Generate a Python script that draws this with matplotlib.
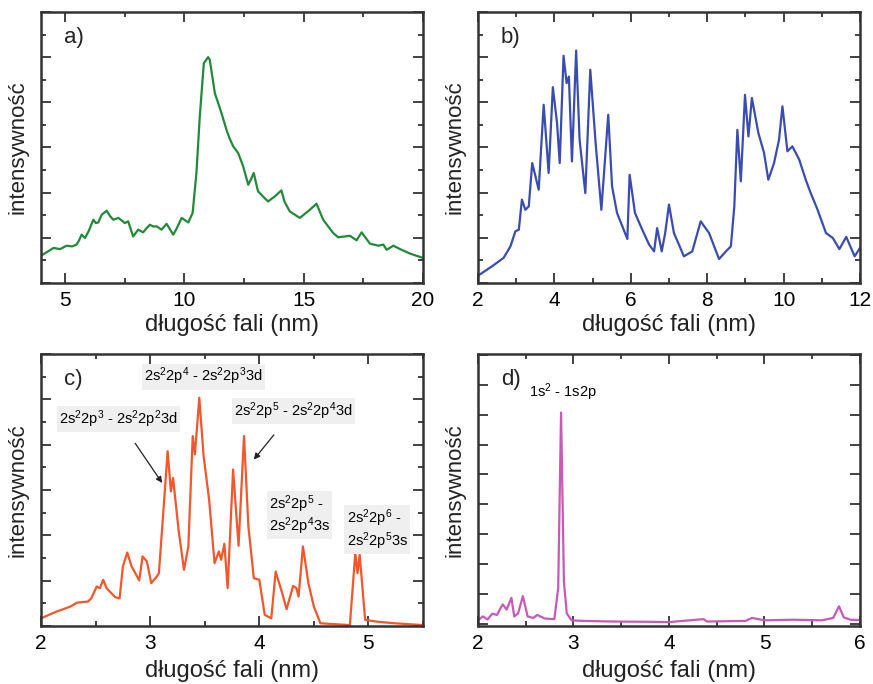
import matplotlib
matplotlib.use("Agg")
import matplotlib.pyplot as plt
from matplotlib.ticker import MultipleLocator

plt.rcParams["font.family"] = ["Liberation Sans", "DejaVu Sans"]
plt.rcParams["mathtext.default"] = "regular"

# ── data (arbitrary intensity units) ─────────────────────────────────────────
a_x = [4.0, 4.3, 4.52, 4.8, 5.07, 5.3, 5.49, 5.6, 5.70, 5.84, 6.0, 6.19, 6.3, 6.40,
       6.54, 6.75, 6.9, 7.03, 7.24, 7.4, 7.51, 7.65, 7.86, 8.07, 8.28, 8.4, 8.56,
       8.7, 8.84, 9.05, 9.26, 9.54, 9.7, 9.89, 10.17, 10.35, 10.51, 10.65, 10.82,
       10.9, 11.0, 11.07, 11.28, 11.56, 11.77, 11.9, 12.05, 12.26, 12.47, 12.68,
       12.8, 12.91, 13.09, 13.30, 13.51, 13.79, 14.07, 14.2, 14.42, 14.84, 15.26,
       15.54, 15.82, 16.24, 16.45, 16.94, 17.22, 17.43, 17.78, 18.13, 18.34,
       18.48, 18.76, 19.04, 19.46, 20.0]
a_y = [1.21, 1.40, 1.55, 1.50, 1.65, 1.62, 1.70, 1.90, 2.14, 1.99, 2.30, 2.80, 2.65,
       2.68, 3.02, 3.20, 2.95, 2.80, 2.88, 2.75, 2.65, 2.73, 2.06, 2.36, 2.24,
       2.40, 2.58, 2.50, 2.51, 2.36, 2.62, 2.14, 2.45, 2.88, 2.68, 3.10, 4.87,
       7.37, 9.73, 9.85, 10.0, 9.88, 8.41, 7.52, 6.78, 6.40, 6.05, 5.75, 5.16,
       4.35, 4.60, 4.87, 4.06, 3.83, 3.61, 3.83, 4.10, 3.60, 3.17, 2.88, 3.24,
       3.51, 2.80, 2.21, 2.02, 2.09, 1.89, 2.24, 1.74, 1.65, 1.70, 1.47, 1.65,
       1.50, 1.30, 1.11]

b_x = [2.0, 2.37, 2.67, 2.85, 2.98, 3.07, 3.15, 3.24, 3.33, 3.42, 3.59, 3.72, 3.85,
       3.96, 4.07, 4.14, 4.24, 4.32, 4.38, 4.46, 4.57, 4.66, 4.81, 4.94, 5.08,
       5.23, 5.41, 5.51, 5.64, 5.91, 5.97, 6.11, 6.30, 6.48, 6.61, 6.69, 6.81,
       6.90, 7.00, 7.13, 7.26, 7.39, 7.61, 7.83, 8.05, 8.31, 8.49, 8.62, 8.71,
       8.79, 8.88, 8.99, 9.08, 9.17, 9.34, 9.49, 9.60, 9.75, 9.88, 9.97, 10.10,
       10.23, 10.41, 10.58, 10.71, 10.89, 11.11, 11.29, 11.46, 11.64, 11.86, 12.0]
b_y = [0.32, 0.74, 1.11, 1.62, 2.29, 2.36, 3.69, 3.24, 3.39, 5.31, 4.13, 7.89, 4.87,
       8.67, 7.08, 5.31, 10.06, 8.85, 9.14, 5.38, 10.29, 6.34, 3.98, 9.44, 6.19,
       3.24, 7.45, 4.28, 3.10, 1.95, 4.79, 3.10, 2.36, 1.70, 1.40, 2.43, 1.40,
       2.21, 3.47, 2.21, 1.70, 1.18, 1.40, 2.73, 2.21, 1.06, 1.40, 1.62, 3.39,
       6.78, 4.50, 8.33, 6.49, 8.19, 6.64, 5.75, 4.57, 5.31, 6.34, 7.82, 5.83,
       6.05, 5.46, 4.57, 3.98, 3.24, 2.21, 1.99, 1.50, 2.04, 1.18, 1.55]

c_x = [2.0, 2.14, 2.27, 2.33, 2.43, 2.46, 2.51, 2.54, 2.57, 2.60, 2.68, 2.72, 2.75,
       2.79, 2.83, 2.90, 2.93, 2.97, 3.01, 3.06, 3.08, 3.12, 3.16, 3.19, 3.21,
       3.26, 3.31, 3.35, 3.39, 3.41, 3.45, 3.49, 3.54, 3.59, 3.63, 3.65, 3.68,
       3.71, 3.76, 3.81, 3.86, 3.90, 3.95, 4.00, 4.05, 4.11, 4.15, 4.21, 4.25,
       4.31, 4.34, 4.36, 4.40, 4.45, 4.50, 4.56, 4.83, 4.88, 4.90, 4.92, 4.97,
       5.08, 5.24, 5.5]
c_y = [0.34, 0.63, 0.86, 1.03, 1.08, 1.22, 1.74, 1.67, 2.04, 1.67, 1.27, 1.22, 2.63,
       3.24, 2.63, 2.01, 3.07, 2.85, 1.89, 2.18, 2.33, 4.99, 7.71, 5.94, 6.53,
       4.25, 2.48, 3.51, 8.38, 7.57, 10.07, 7.49, 5.58, 2.77, 3.29, 2.92, 3.63,
       1.67, 6.90, 3.54, 8.38, 4.40, 2.11, 2.04, 0.49, 0.34, 2.40, 1.45, 0.74,
       1.77, 1.67, 1.30, 3.51, 1.89, 0.86, 0.12, 0.04, 3.22, 2.33, 3.14, 0.27,
       0.19, 0.12, 0.04]

d_x = [2.0, 2.05, 2.1, 2.15, 2.2, 2.24, 2.26, 2.3, 2.35, 2.38, 2.42, 2.47, 2.52,
       2.58, 2.62, 2.7, 2.8, 2.84, 2.87, 2.90, 2.93, 2.98, 3.1, 3.4, 3.8, 4.0,
       4.36, 4.4, 4.8, 4.87, 5.0, 5.3, 5.6, 5.72, 5.78, 5.83, 5.9, 6.0]
d_y = [0.12, 0.25, 0.15, 0.34, 0.30, 0.55, 0.65, 0.48, 0.87, 0.25, 0.35, 0.93, 0.25,
       0.20, 0.30, 0.18, 0.16, 1.2, 7.07, 1.4, 0.35, 0.12, 0.10, 0.08, 0.07,
       0.06, 0.16, 0.08, 0.10, 0.20, 0.12, 0.14, 0.12, 0.20, 0.59, 0.22, 0.14, 0.13]

panels = [
    dict(x=a_x, y=a_y, color="#23893a", xlim=(4, 20), ylim=(0, 12),
         xmaj=5, xmin=2.5, ymaj=2, ymin=1, tag="a)"),
    dict(x=b_x, y=b_y, color="#3a4cb0", xlim=(2, 12), ylim=(0, 12),
         xmaj=2, xmin=1, ymaj=2, ymin=1, tag="b)"),
    dict(x=c_x, y=c_y, color="#f3562a", xlim=(2, 5.5), ylim=(0, 12),
         xmaj=1, xmin=0.5, ymaj=2, ymin=1, tag="c)"),
    dict(x=d_x, y=d_y, color="#c65ab6", xlim=(2, 6), ylim=(-0.07, 9.03),
         xmaj=1, xmin=0.5, ymaj=1, ymin=1, tag="d)"),
]
boxes = [
    [0.047, 0.5863, 0.4375, 0.3962],
    [0.5475, 0.5863, 0.4376, 0.3962],
    [0.047, 0.0848, 0.4375, 0.3977],
    [0.5475, 0.0848, 0.4376, 0.3977],
]

fig = plt.figure(figsize=(8.73, 6.84), dpi=100)
axes = []
for p, box in zip(panels, boxes):
    ax = fig.add_axes(box)
    ax.plot(p["x"], p["y"], color=p["color"], lw=1.6)
    ax.set_xlim(*p["xlim"]); ax.set_ylim(*p["ylim"])
    ax.xaxis.set_major_locator(MultipleLocator(p["xmaj"]))
    ax.xaxis.set_minor_locator(MultipleLocator(p["xmin"]))
    ax.yaxis.set_major_locator(MultipleLocator(p["ymaj"]))
    ax.yaxis.set_minor_locator(MultipleLocator(p["ymin"]))
    ax.tick_params(which="both", direction="in", top=True, right=True,
                   labelleft=False, labelsize=15, color="#333333", width=1.3)
    ax.tick_params(which="major", length=7, pad=6)
    ax.tick_params(which="minor", length=3.5)
    for s in ax.spines.values():
        s.set_linewidth(1.8); s.set_color("#333333")
    ax.set_xlabel("długość fali (nm)", fontsize=17, color="#222222")
    ax.set_ylabel("intensywność", fontsize=16, color="#222222")
    ax.yaxis.set_label_coords(-0.032, 0.5)
    ax.xaxis.set_label_coords(0.5, -0.115)
    ax.text(0.06, 0.905, p["tag"], transform=ax.transAxes, fontsize=16,
            va="center", ha="left", color="#222222")
    ax.xaxis.set_major_formatter(lambda v, pos: f"{v:g}")
    axes.append(ax)

ax_c, ax_d = axes[2], axes[3]
box_kw = dict(boxstyle="square,pad=0.15", fc="#efefef", ec="none")
ax_c.text(3.49, 11.0, r"2s$^2$2p$^4$ - 2s$^2$2p$^3$3d", fontsize=10.5,
          ha="center", va="center", bbox=box_kw)
ax_c.annotate(r"2s$^2$2p$^3$ - 2s$^2$2p$^2$3d", xy=(3.11, 6.31), xytext=(2.71, 9.14),
              fontsize=10.5, ha="center", va="center", bbox=box_kw,
              arrowprops=dict(arrowstyle="-|>", color="#222222", lw=0.9,
                              shrinkA=10, shrinkB=0, mutation_scale=9))
ax_c.annotate(r"2s$^2$2p$^5$ - 2s$^2$2p$^4$3d", xy=(3.95, 7.34), xytext=(4.31, 9.48),
              fontsize=10.5, ha="center", va="center", bbox=box_kw,
              arrowprops=dict(arrowstyle="-|>", color="#222222", lw=0.9,
                              shrinkA=10, shrinkB=0, mutation_scale=9))
ax_c.text(4.09, 4.9, "2s$^2$2p$^5$ -\n2s$^2$2p$^4$3s", fontsize=10.5,
          ha="left", va="center", linespacing=1.05, bbox=box_kw)
ax_c.text(4.80, 4.25, "2s$^2$2p$^6$ -\n2s$^2$2p$^5$3s", fontsize=10.5,
          ha="left", va="center", linespacing=1.05, bbox=box_kw)
ax_c.xaxis.set_label_coords(0.5, -0.125)
ax_d.xaxis.set_label_coords(0.5, -0.125)

ax_d.text(2.89, 7.74, r"1s$^2$ - 1s2p", fontsize=10.5, ha="center", va="center")

fig.savefig("out.png", dpi=100)
